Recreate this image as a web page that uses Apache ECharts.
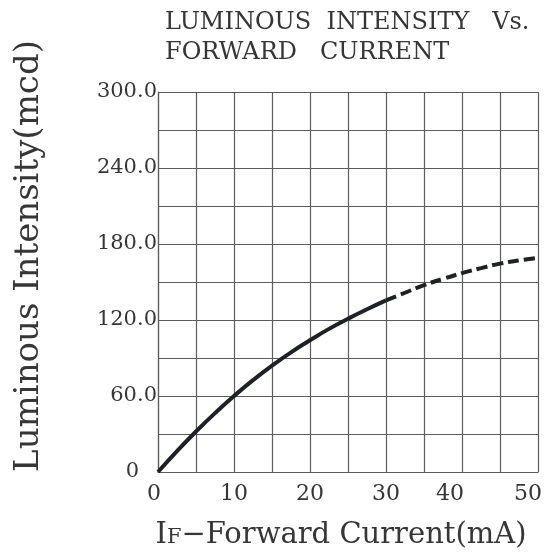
<!DOCTYPE html>
<html>
<head>
<meta charset="utf-8">
<script src="https://cdn.jsdelivr.net/npm/echarts@6/dist/echarts.min.js"></script>
<style>
  html, body { margin: 0; padding: 0; background: #ffffff; }
  #chart { width: 555px; height: 560px; }
</style>
</head>
<body>
<div id="chart"></div>
<script>
// Data
var titleLines = ['LUMINOUS  INTENSITY   Vs.', 'FORWARD   CURRENT'];
var yAxisName = 'Luminous Intensity(mcd)';
var currentSolid = [0, 2.5, 5, 7.5, 10, 12.5, 15, 17.5, 20, 22.5, 25, 27.5, 30];
var intensitySolid = [0, 16.5, 32, 46.5, 60, 72.5, 84, 94.5, 104, 113, 121, 128.5, 135.5];
var currentDashed = [30, 32.5, 35, 37.5, 40, 42.5, 45, 47.5, 50];
var intensityDashed = [135.5, 141.5, 147.5, 152.5, 157, 161, 164.5, 167, 169];
var xTickLabels = [0, 10, 20, 30, 40, 50];
var yTickLabels = [0, 60, 120, 180, 240, 300];

function pairs(xs, ys) {
  return xs.map(function (x, i) { return [x, ys[i]]; });
}

var serif = 'DejaVu Serif';
var textColor = '#363636';
var gridColor = '#5c5c5c';
var lineColor = '#1e2228';

var chart = echarts.init(document.getElementById('chart'), null, { renderer: 'canvas' });

chart.setOption({
  backgroundColor: '#ffffff',
  animation: false,
  title: {
    text: titleLines.join('\n'),
    left: 160,
    top: 3,
    textStyle: {
      fontFamily: serif,
      fontSize: 24,
      fontWeight: 'normal',
      color: textColor,
      lineHeight: 30
    }
  },
  grid: { left: 158, right: 17, top: 92, bottom: 88, containLabel: false },
  xAxis: {
    type: 'value',
    min: 0,
    max: 50,
    interval: 5,
    name: '{i|I}{f|F}{t|−Forward Current(mA)}',
    nameLocation: 'middle',
    nameGap: 49,
    nameTextStyle: {
      color: textColor,
      fontFamily: serif,
      fontSize: 29,
      padding: [0, 14, 0, 0],
      rich: {
        i: { fontFamily: serif, fontSize: 29, color: textColor },
        f: { fontFamily: serif, fontSize: 21, color: textColor, verticalAlign: 'bottom', lineHeight: 21, padding: [0, 0, 2, 0] },
        t: { fontFamily: serif, fontSize: 29, color: textColor }
      }
    },
    axisLine: { show: true, lineStyle: { color: gridColor, width: 1.2 } },
    axisTick: { show: false },
    splitLine: { show: true, lineStyle: { color: gridColor, width: 1.2 } },
    axisLabel: {
      margin: 11,
      color: textColor,
      fontFamily: serif,
      fontSize: 22,
      formatter: function (v) {
        if (xTickLabels.indexOf(v) < 0) return '';
        if (v === 0) return '{a|0}';
        if (v === 40) return '{b|40}';
        if (v === 50) return '{c|50}';
        return String(v);
      },
      rich: {
        a: { fontFamily: serif, fontSize: 22, color: textColor, padding: [0, 8, 0, 0] },
        b: { fontFamily: serif, fontSize: 22, color: textColor, padding: [0, 24, 0, 0] },
        c: { fontFamily: serif, fontSize: 22, color: textColor, padding: [0, 20, 0, 0] }
      }
    }
  },
  yAxis: {
    type: 'value',
    min: 0,
    max: 300,
    interval: 30,
    name: yAxisName,
    nameLocation: 'middle',
    nameGap: 112,
    nameTextStyle: {
      color: textColor,
      fontFamily: serif,
      fontSize: 34,
      padding: [0, 0, 0, 52]
    },
    axisLine: { show: true, lineStyle: { color: gridColor, width: 1.2 } },
    axisTick: { show: false },
    splitLine: { show: true, lineStyle: { color: gridColor, width: 1.2 } },
    axisLabel: {
      margin: 1,
      color: textColor,
      fontFamily: serif,
      fontSize: 21,
      formatter: function (v) {
        if (yTickLabels.indexOf(v) < 0) return '';
        if (v === 0) return '{z|0}';
        return v.toFixed(1);
      },
      rich: {
        z: { fontFamily: serif, fontSize: 21, color: textColor, padding: [0, 18, 0, 0] }
      }
    }
  },
  series: [
    {
      type: 'line',
      data: pairs(currentSolid, intensitySolid),
      smooth: true,
      showSymbol: false,
      lineStyle: { color: lineColor, width: 4, type: 'solid' },
      z: 5
    },
    {
      type: 'line',
      data: pairs(currentDashed, intensityDashed),
      smooth: true,
      showSymbol: false,
      lineStyle: { color: lineColor, width: 4, type: [11, 5], dashOffset: 0 },
      z: 5
    }
  ]
});
</script>
</body>
</html>
